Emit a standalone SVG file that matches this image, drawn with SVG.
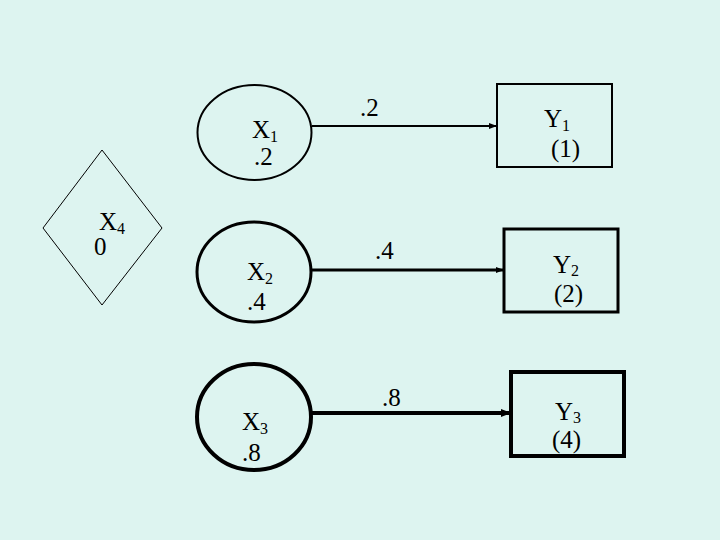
<svg xmlns="http://www.w3.org/2000/svg" width="720" height="540" viewBox="0 0 720 540" font-family="'Liberation Serif', 'Times New Roman', Times, serif">
<defs>
<style>
text{font-family:'Liberation Serif','Times New Roman',Times,serif;font-size:25px;fill:#000}
.sub{font-size:16px}
.n{fill:none;stroke:#000}
.c{stroke:#000;fill:none}
</style>
<marker id="ah" markerWidth="8" markerHeight="6" refX="7" refY="3" orient="auto" markerUnits="userSpaceOnUse"><path d="M0,0 L8,3 L0,6 Z" fill="#000"/></marker>
<marker id="ah3" markerWidth="10" markerHeight="8" refX="9" refY="4" orient="auto" markerUnits="userSpaceOnUse"><path d="M0,0 L10,4 L0,8 Z" fill="#000"/></marker>
</defs>
<rect width="720" height="540" fill="#ddf4f0"/>
<g id="connectors">
<line class="c" x1="312" y1="126" x2="496" y2="126" stroke-width="2" marker-end="url(#ah)"/>
<line class="c" x1="312" y1="270" x2="503" y2="270" stroke-width="3" marker-end="url(#ah)"/>
<line class="c" x1="312" y1="413" x2="510" y2="413" stroke-width="4" marker-end="url(#ah3)"/>
<text x="360" y="116">.2</text>
<text x="375" y="259">.4</text>
<text x="382" y="406">.8</text>
</g>
<g id="X1">
<ellipse class="n" cx="254.5" cy="132.5" rx="57" ry="47.5" stroke-width="2"/>
<text x="252" y="138">X<tspan class="sub" dy="4">1</tspan></text>
<text x="254" y="165">.2</text>
</g>
<g id="X2">
<ellipse class="n" cx="254" cy="272" rx="57" ry="50" stroke-width="3"/>
<text x="247" y="280">X<tspan class="sub" dy="4">2</tspan></text>
<text x="247" y="310">.4</text>
</g>
<g id="X3">
<ellipse class="n" cx="254" cy="417" rx="57" ry="53" stroke-width="4"/>
<text x="242" y="430">X<tspan class="sub" dy="4">3</tspan></text>
<text x="242" y="461">.8</text>
</g>
<g id="X4">
<polygon class="n" points="102,150 162,228 102,305 43,228" stroke-width="1"/>
<text x="99" y="230">X<tspan class="sub" dy="4">4</tspan></text>
<text x="94" y="255">0</text>
</g>
<g id="Y1">
<rect class="n" x="497" y="84" width="115" height="83" stroke-width="2"/>
<text x="544" y="127">Y<tspan class="sub" dy="4">1</tspan></text>
<text x="551" y="157">(1)</text>
</g>
<g id="Y2">
<rect class="n" x="504" y="229" width="114" height="83" stroke-width="3"/>
<text x="553" y="273">Y<tspan class="sub" dy="3">2</tspan></text>
<text x="554" y="302">(2)</text>
</g>
<g id="Y3">
<rect class="n" x="511" y="372" width="113" height="84" stroke-width="4"/>
<text x="555" y="420">Y<tspan class="sub" dy="3">3</tspan></text>
<text x="552" y="448">(4)</text>
</g>
</svg>
